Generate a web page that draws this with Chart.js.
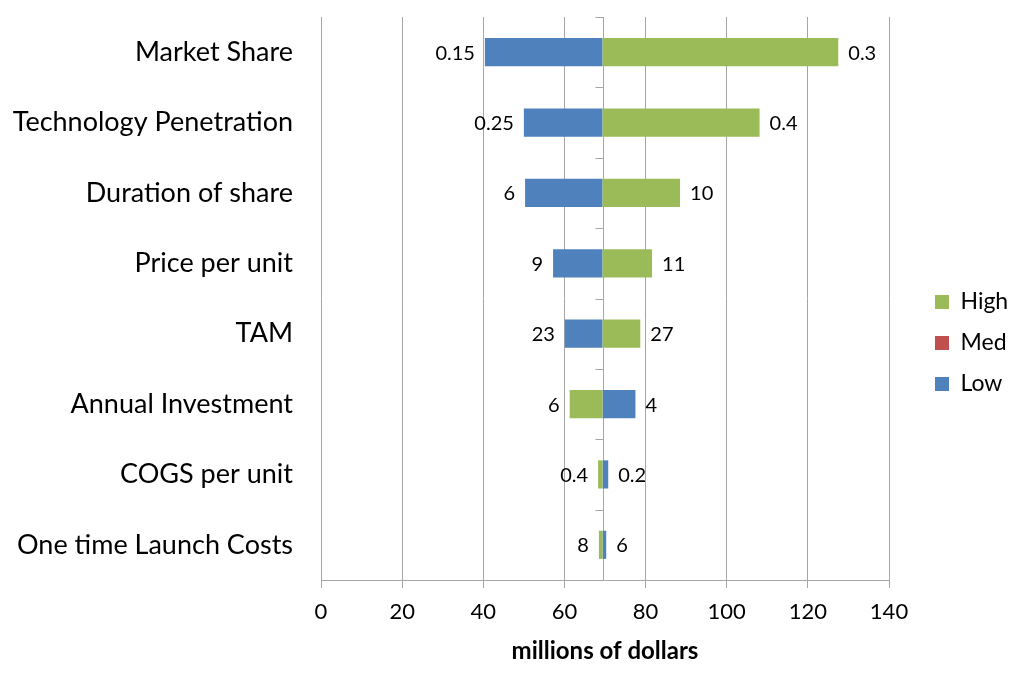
<!DOCTYPE html>
<html>
<head>
<meta charset="utf-8">
<script src="https://cdn.jsdelivr.net/npm/chart.js@4.4.1/dist/chart.umd.min.js"></script>
<style>
  html, body { margin: 0; padding: 0; background: #ffffff; }
  #wrap { width: 1024px; height: 685px; }
</style>
</head>
<body>
<div id="wrap"><canvas id="c" width="1024" height="685"></canvas></div>
<script>
// ---- data ----
const categories = [
  'Market Share', 'Technology Penetration', 'Duration of share', 'Price per unit',
  'TAM', 'Annual Investment', 'COGS per unit', 'One time Launch Costs'
];
const baseValue = 69.4;                       // result at the base case (millions)
const highResults = [127.5, 108.1, 88.5, 81.6, 78.7, 61.3, 68.3, 68.5];
const lowResults  = [40.4, 50.0, 50.3, 57.2, 60.1, 77.5, 70.8, 70.3];
const highInputs  = ['0.3', '0.4', '10', '11', '27', '6', '0.4', '8'];
const lowInputs   = ['0.15', '0.25', '6', '9', '23', '4', '0.2', '6'];
const seriesNames = ['High', 'Med', 'Low'];
const xMin = 0, xMax = 140, xStep = 20;
const axisTitle = 'millions of dollars';

const GREEN = '#9BBB59', RED = '#C0504D', BLUE = '#4F81BD', GRID = '#a6a6a6';
const FONT = 'Lato, "Open Sans", sans-serif';

const centerAxisPlugin = {
  id: 'centerAxis',
  beforeDatasetsDraw(chart) {
    const {ctx, chartArea, scales} = chart;
    const x = Math.round(scales.x.getPixelForValue(baseValue)) + 0.5;
    ctx.save();
    ctx.strokeStyle = GRID;
    ctx.lineWidth = 1;
    ctx.beginPath();
    ctx.moveTo(x, chartArea.top);
    ctx.lineTo(x, chartArea.bottom);
    for (let i = 0; i <= categories.length; i++) {
      let y;
      if (i === 0) y = chartArea.top;
      else if (i === categories.length) y = chartArea.bottom;
      else y = (scales.y.getPixelForValue(i - 1) + scales.y.getPixelForValue(i)) / 2;
      y = Math.round(y) + 0.5;
      ctx.moveTo(x - 8, y);
      ctx.lineTo(x, y);
    }
    ctx.stroke();
    ctx.restore();
  }
};

const barLabelPlugin = {
  id: 'barLabels',
  afterDatasetsDraw(chart) {
    const {ctx, scales} = chart;
    ctx.save();
    ctx.font = '20px ' + FONT;
    ctx.fillStyle = '#000';
    ctx.textBaseline = 'middle';
    const sets = [[0, highInputs, highResults], [2, lowInputs, lowResults]];
    sets.forEach(([di, labels, values]) => {
      const meta = chart.getDatasetMeta(di);
      meta.data.forEach((el, i) => {
        const end = scales.x.getPixelForValue(values[i]);
        const left = values[i] < baseValue;
        ctx.textAlign = left ? 'right' : 'left';
        ctx.fillText(labels[i], left ? end - 10 : end + 10, el.y + 1);
      });
    });
    ctx.restore();
  }
};

// legend placement: fixed-width box right of the plot, items nudged into place
const legendPlacePlugin = {
  id: 'legendPlace',
  beforeLayout(chart) {
    const lg = chart.legend;
    if (lg && !lg._patched) {
      const orig = lg.fit;
      lg.fit = function () { orig.call(this); this.width = 135; };
      lg._patched = true;
    }
  },
  afterLayout(chart) {
    const lg = chart.legend;
    if (!lg) return;
    lg.left += 28; lg.right += 28;
    lg.top -= 8; lg.bottom -= 8;
  }
};

new Chart(document.getElementById('c'), {
  type: 'bar',
  data: {
    labels: categories,
    datasets: [
      { label: seriesNames[0], data: highResults.map(v => [baseValue, v]), backgroundColor: GREEN, borderWidth: 0 },
      { label: seriesNames[1], data: [], backgroundColor: RED, borderWidth: 0 },
      { label: seriesNames[2], data: lowResults.map(v => [baseValue, v]), backgroundColor: BLUE, borderWidth: 0 }
    ]
  },
  options: {
    indexAxis: 'y',
    responsive: false,
    animation: false,
    devicePixelRatio: 1,
    barPercentage: 0.4,
    categoryPercentage: 1,
    layout: { padding: { left: 11, top: 17, right: 0, bottom: 0 } },
    scales: {
      x: {
        min: xMin, max: xMax, stacked: false,
        ticks: { stepSize: xStep, color: '#000', font: { family: FONT, size: 22 }, padding: 11, maxRotation: 0 },
        grid: { color: GRID, tickLength: 8, lineWidth: 1 },
        border: { color: GRID },
        title: { display: true, text: axisTitle, color: '#000', font: { family: FONT, size: 24, weight: 'bold' }, padding: { top: 4, bottom: 19 } },
        afterFit(scale) { scale.height = 105; scale.paddingRight = 0; scale.paddingLeft = 0; }
      },
      y: {
        stacked: true,
        ticks: { color: '#000', font: { family: FONT, size: 27 }, padding: 28 },
        grid: { display: false, drawTicks: false },
        border: { display: false },
        afterFit(scale) { scale.width = 310; scale.paddingTop = 0; scale.paddingBottom = 0; }
      }
    },
    plugins: {
      legend: {
        position: 'right',
        labels: { color: '#000', font: { family: FONT, size: 23 }, boxWidth: 14, boxHeight: 14, padding: 18 }
      },
      tooltip: { enabled: false }
    }
  },
  plugins: [centerAxisPlugin, barLabelPlugin, legendPlacePlugin]
});
</script>
</body>
</html>
